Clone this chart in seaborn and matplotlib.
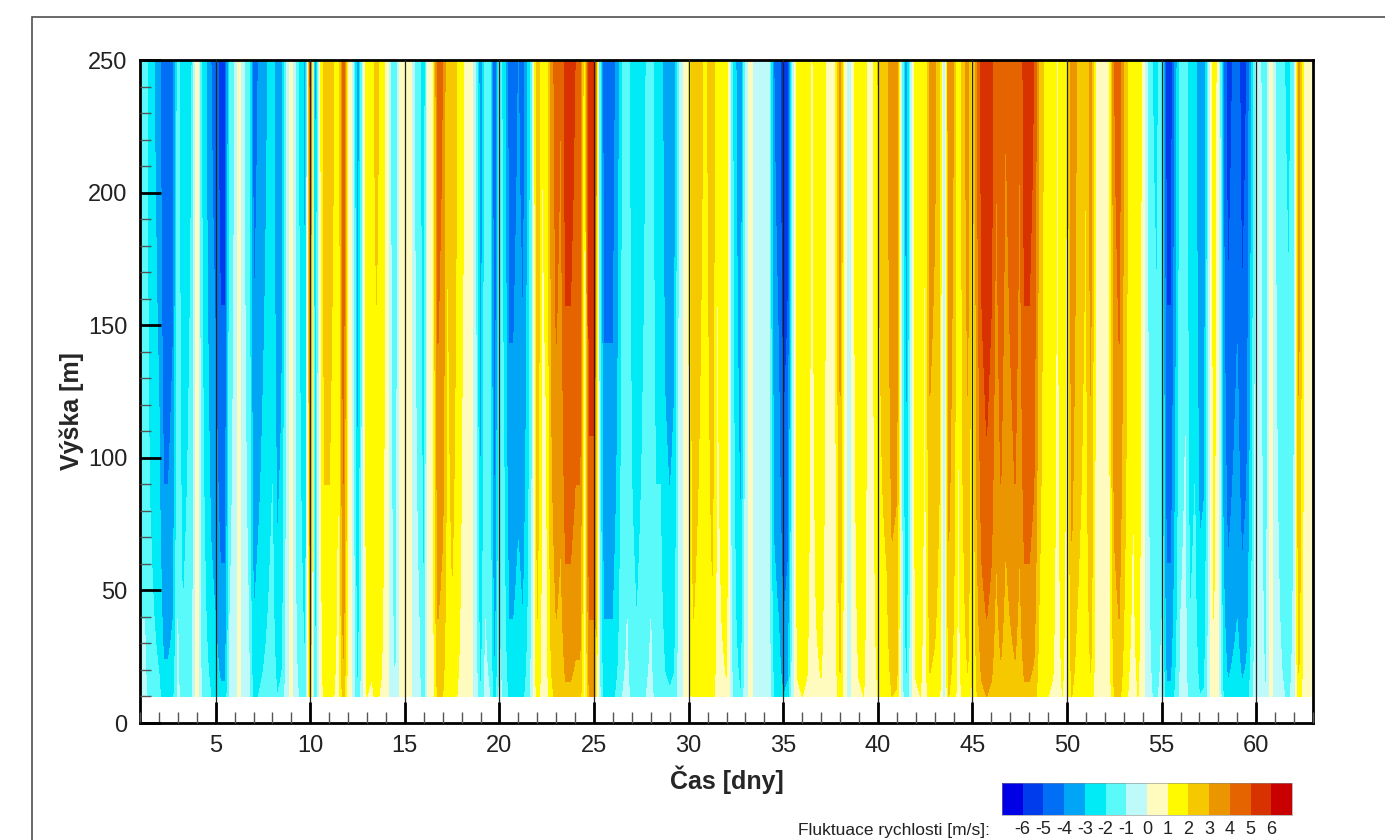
import numpy as np
import matplotlib
matplotlib.use("Agg")
import matplotlib.pyplot as plt
from matplotlib.patches import Rectangle
from matplotlib.ticker import MultipleLocator
import seaborn as sns

# ---------------- data ----------------
t_start = 1.0          # first sample [day]
t_step = 0.25          # sampling step [day]

# velocity fluctuation at the top level (250 m), one value per 6 h
fluct_days_01_16 = [-1.5, -1.5, -2.5, -3, -3.5, -5, -5, -4.5, -1.5, -3,
                    -2.5, -2, 0.8, -2, -3, -4, -4.5, -5.5, -5.5, -1.5,
                    -1, 0.5, -1, -1.5, -4.5, -4, -3.5, -3, -2.5, -4,
                    -3.5, -1, 0.8, -1.5, -2.5, -3.5, 4.5, -4, 0.5, 2.5,
                    2.5, 2, 1, 5, 0.8, -0.5, -4, -1, 2, 1.8,
                    2.2, 1.8, 0.8, -1, -2, 0.5, 0.2, 0.8, -1, -1.5,
                    -3, 0.8]
fluct_days_16_32 = [1, 4.5, 4, 2, 2.8, 2, 1.2, 0.8, 0.3, -1,
                    -4, -1.5, -2, -5.5, -1.5, -2.5, -4.5, -4.5, -4, -4.5,
                    -3, -1, 3, 1, 1.2, 3.5, 4.5, 4, 5.5, 5.5,
                    5, 5, 0.5, 6, 6, -1, -4.5, -4.5, -4.5, -3.5,
                    -2, -1.5, -2.5, -3, -2.5, -2, -1.5, -2.5, -2.5, -3.5,
                    -3.8, -3.5, -1, 0.2, 1, 3, 2.5, 2, 2, 2.8,
                    1, 1.5, 1.8]
fluct_days_32_47 = [-1.5, -3, -4, -1, 0.8, -1, -0.8, -0.5, -1, -4,
                    -4.5, -6, -5.5, -1, 1.8, 2, 1.8, 0.8, 1.5, 1.8,
                    1, 0.5, 0.8, 3.5, 0.3, -0.8, 1, 1.8, 2, 0.5,
                    1, 2, 2.5, 2.8, 4, 3.8, -1, -4, -1, 1.8,
                    2, 0.8, 3.5, 3.2, 2.5, -1.5, 4, 3, 1, 2.5,
                    3.5, 1.2, 4, 5.5, 6, 5.5, 4, 5, 4, 4.5,
                    5, 4]
fluct_days_48_63 = [5.5, 5.5, 5, 3, 2, 2, 1.8, 0.8, 2, 0.8,
                    4, 3, 2.5, 2, 3.5, 1, 0.5, 0.3, 1, 4,
                    4.5, 3, 1.8, 1.2, 2, 0.5, -1, -2, -2.2, -1.5,
                    -5.5, -5.5, -3.5, -1.5, -1.2, -3, -2.5, -4, -3.8, -1,
                    1.5, 0.5, -4, -5.5, -5, -4.5, -5.5, -5, -3, -0.5,
                    -1, -2, 0.5, -1, -1.5, -2, -2.2, -1.2, 3.5, 1,
                    0.8, 0.8]

# vertical amplitude profile (relative to the top level)
heights = [10, 15, 20, 30, 40, 50, 65, 80, 100, 125, 150, 175, 200, 225, 250]
profile = [0.5, 0.54, 0.58, 0.63, 0.67, 0.7, 0.74, 0.78, 0.82, 0.86,
           0.9, 0.93, 0.96, 0.98, 1.0]

levels = list(range(-7, 8))
cbar_ticks = list(range(-6, 7))
level_colors = ["#0000e6", "#003ceb", "#006ef5", "#00a5f5", "#00ebf5",
                "#5afafa", "#befafa", "#fffabe", "#fffa00", "#f5c800",
                "#eb9600", "#e66400", "#d73200", "#c80000"]
x_ticks = list(range(5, 61, 5))
y_ticks = list(range(0, 251, 50))

# ---------------- figure ----------------
sns.set_theme(style="ticks")
plt.rcParams["font.family"] = ["Liberation Sans", "DejaVu Sans"]
plt.rcParams["axes.unicode_minus"] = False

fluct_top = np.array(fluct_days_01_16 + fluct_days_16_32 +
                     fluct_days_32_47 + fluct_days_48_63)
times = t_start + t_step * np.arange(len(fluct_top))
field = np.outer(profile, fluct_top)

palette = sns.color_palette(level_colors)

W, H = 1385, 840
fig = plt.figure(figsize=(W / 100, H / 100), dpi=100)
fig.patch.set_facecolor("white")

# outer frame
fig.add_artist(Rectangle((32 / W, 1 - 1000 / H), 1400 / W, (1000 - 17) / H,
                         transform=fig.transFigure, fill=False,
                         edgecolor="#505050", linewidth=1.2))

ax = fig.add_axes([140 / W, 1 - 723 / H, 1173 / W, 663 / H])
ax.set_facecolor("white")
cs = ax.contourf(times, heights, field, levels=levels, colors=palette)

ax.set_xlim(1, 63)
ax.set_ylim(0, 250)
ax.set_xticks(x_ticks)
ax.set_yticks(y_ticks)
ax.xaxis.set_minor_locator(MultipleLocator(1))
ax.yaxis.set_minor_locator(MultipleLocator(10))
ax.tick_params(which="major", direction="in", length=15, width=2,
               color="black", labelsize=17, pad=9, labelcolor="#222222")
ax.tick_params(which="minor", direction="in", length=8, width=1,
               color="#555555")
ax.grid(axis="x", which="major", color="#222222", linewidth=0.9)
ax.set_axisbelow(False)
for sp in ax.spines.values():
    sp.set_linewidth(2)
    sp.set_color("black")

ax.set_xlabel("Čas [dny]", fontsize=18, fontweight="bold", labelpad=6)
ax.set_ylabel("Výška [m]", fontsize=18, fontweight="bold")
ax.yaxis.set_label_coords(-0.0475, 0.47)

# colour legend
cax = fig.add_axes([1002 / W, 1 - 815 / H, 290 / W, 32 / H])
cbar = fig.colorbar(cs, cax=cax, orientation="horizontal", ticks=cbar_ticks)
cbar.ax.tick_params(length=0, labelsize=13, pad=4, labelcolor="#222222")
cbar.outline.set_linewidth(0.4)
cbar.outline.set_edgecolor("#888888")
fig.text(990 / W, 1 - 831 / H, "Fluktuace rychlosti [m/s]:",
         ha="right", va="center", fontsize=12.5, color="#222222")

fig.savefig("out.png", dpi=100, facecolor="white")
